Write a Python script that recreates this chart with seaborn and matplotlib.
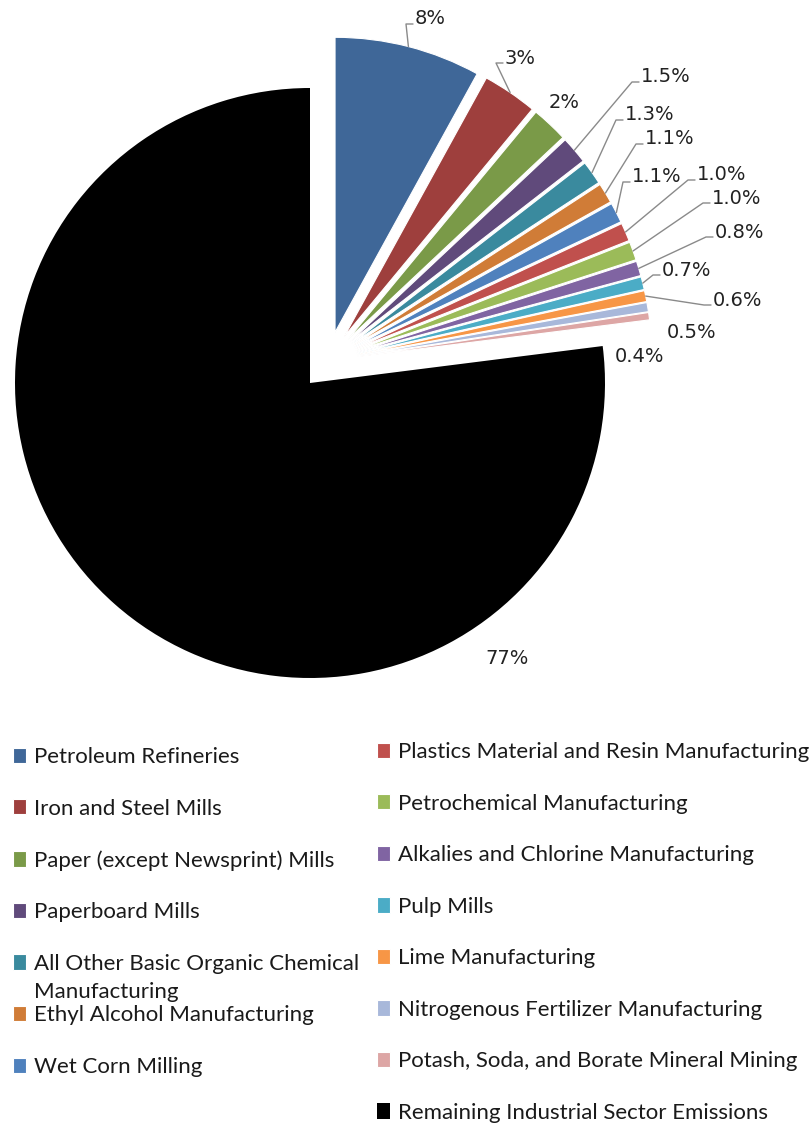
import matplotlib
matplotlib.use("Agg")
import matplotlib.pyplot as plt
import seaborn as sns
import numpy as np

sns.set_theme(style="white")
plt.rcParams['font.family'] = ['DejaVu Sans']

# ---------------- data ----------------
categories = [
    "Petroleum Refineries",
    "Iron and Steel Mills",
    "Paper (except Newsprint) Mills",
    "Paperboard Mills",
    "All Other Basic Organic Chemical Manufacturing",
    "Ethyl Alcohol Manufacturing",
    "Wet Corn Milling",
    "Plastics Material and Resin Manufacturing",
    "Petrochemical Manufacturing",
    "Alkalies and Chlorine Manufacturing",
    "Pulp Mills",
    "Lime Manufacturing",
    "Nitrogenous Fertilizer Manufacturing",
    "Potash, Soda, and Borate Mineral Mining",
    "Remaining Industrial Sector Emissions",
]
values = [8, 3, 2, 1.5, 1.3, 1.1, 1.1, 1.0, 1.0, 0.8, 0.7, 0.6, 0.5, 0.4, 77]
pct_labels = ["8%", "3%", "2%", "1.5%", "1.3%", "1.1%", "1.1%", "1.0%", "1.0%",
              "0.8%", "0.7%", "0.6%", "0.5%", "0.4%", "77%"]
colors = ["#3F6798", "#9E3F3D", "#7A9A48", "#604A7B", "#3A8A9E", "#D07C37",
          "#4F81BD", "#C0504D", "#9BBB59", "#8064A2", "#4BACC6", "#F79646",
          "#A8B8DA", "#DDA6A5", "#000000"]

# ---------------- layout (pixels) ----------------
W, H = 812, 1124
CX, CY, RPX = 310, 383, 295          # pie centre / radius in pixels
AX_TOP, AX_BOT = 0, 700
# label left-centre positions (pixels) and whether a leader line is drawn
label_pos_px = [(415, 19), (505, 58), (549, 103), (641, 77), (625, 115),
                (645, 139), (632, 177), (697, 175), (712, 198), (715, 232),
                (662, 270), (713, 300), (667, 333), (615, 357), (485, 658)]
leader = [True, True, False, True, True, True, True, True, True, True,
          True, True, False, False, False]

fig = plt.figure(figsize=(W / 100, H / 100), dpi=100)
ax = fig.add_axes([0, 1 - AX_BOT / H, 1, (AX_BOT - AX_TOP) / H])

n = len(values)
small = [c if i < n - 1 else "none" for i, c in enumerate(colors)]
big = ["none"] * (n - 1) + [colors[-1]]

# main (remaining) slice
w_big, _ = ax.pie(values, colors=big, startangle=90, counterclock=False,
                  radius=1, center=(0, 0),
                  wedgeprops=dict(linewidth=0))
# exploded small slices
explode = [0.1] * (n - 1) + [0]
w_small, _ = ax.pie(values, colors=small, startangle=90, counterclock=False,
                    radius=1, center=(0.06, 0.075), explode=explode,
                    wedgeprops=dict(linewidth=0.8, edgecolor="white"))
w_small[-1].set_edgecolor("none")

ax.set_xlim(-CX / RPX, (W - CX) / RPX)
ax.set_ylim(-(AX_BOT - CY) / RPX, CY / RPX)
ax.set_aspect("auto")
ax.axis("off")


def px2d(px, py):
    return (px - CX) / RPX, (CY - py) / RPX


for i in range(n):
    lx, ly = px2d(*label_pos_px[i])
    ax.text(lx, ly, pct_labels[i], ha="left", va="center", fontsize=14,
            color="#222222", family="DejaVu Sans")
    if leader[i]:
        wdg = w_small[i]
        b = np.deg2rad((wdg.theta1 + wdg.theta2) / 2)
        x0 = wdg.center[0] + wdg.r * np.cos(b)
        y0 = wdg.center[1] + wdg.r * np.sin(b)
        ex, ey = px2d(label_pos_px[i][0] - 9, label_pos_px[i][1] + 5)
        tx, ty = px2d(label_pos_px[i][0] - 2, label_pos_px[i][1] + 5)
        ax.plot([x0, ex, tx], [y0, ey, ty], color="#8a8a8a", lw=1.0)

# ---------------- legends ----------------
leg_labels = list(categories)
leg_labels[4] = "All Other Basic Organic Chemical"
handles = list(w_small[:n - 1]) + [w_big[-1]]

FS = 16
common = dict(loc="upper left", bbox_transform=fig.transFigure, frameon=False,
              borderpad=0, borderaxespad=0, handlelength=0.58, handleheight=0.68,
              handletextpad=0.36, labelspacing=1.42,
              prop=dict(family="Lato", size=FS), labelcolor="#1a1a1a")
leg1 = fig.legend(handles[:7], leg_labels[:7],
                  bbox_to_anchor=(13 / W, 1 - 747 / H), **common)
leg2 = fig.legend(handles[7:], leg_labels[7:],
                  bbox_to_anchor=(377 / W, 1 - 742 / H), **common)

fig.canvas.draw()
t = leg1.get_texts()[4]
bb = t.get_window_extent()
fig.text(bb.x0 / W, (bb.y0 + bb.height / 2 - 28) / H, "Manufacturing",
         family="Lato", size=FS, color="#1a1a1a", ha="left", va="center")

fig.savefig("out.png", dpi=100, facecolor="white")
